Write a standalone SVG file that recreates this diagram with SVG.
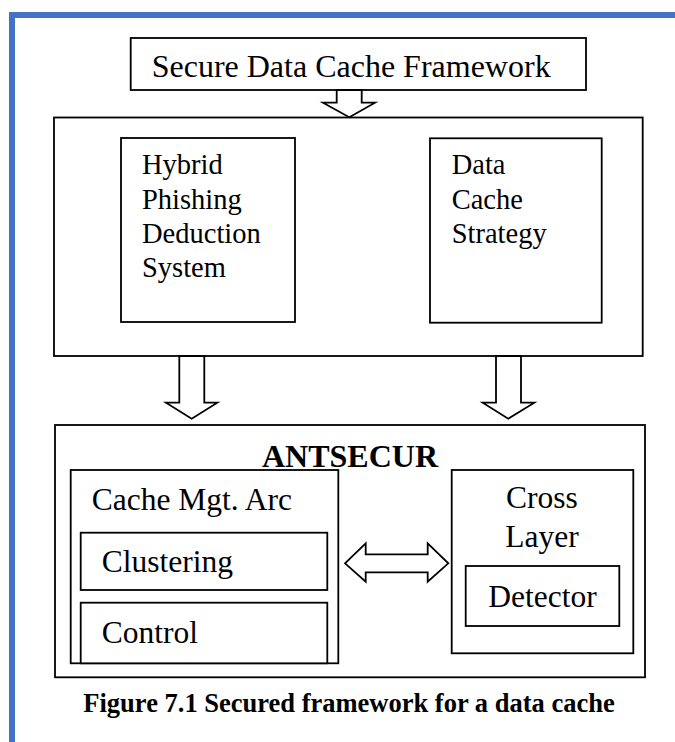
<svg xmlns="http://www.w3.org/2000/svg" width="675" height="742" viewBox="0 0 675 742">
<style>
.box{fill:#fff;stroke:#000;stroke-width:1.8}
.arr{fill:#fff;stroke:#000;stroke-width:1.8;stroke-linejoin:miter}
.t{font-family:"Liberation Serif","Times New Roman",serif;fill:#000}
.b{font-weight:bold}
</style>
<rect x="0" y="0" width="675" height="742" fill="#fff"/>
<path d="M12 742 V15 H680" fill="none" stroke="#4472C4" stroke-width="6"/>
<g id="framework">
<rect class="box" x="130.7" y="38" width="455.3" height="52"/>
<text class="t" x="151.7" y="77" font-size="32">Secure Data Cache Framework</text>
</g>
<g id="upper">
<rect class="box" x="54" y="117.5" width="588.7" height="238.5"/>
</g>
<g id="hybrid">
<rect class="box" x="121" y="138" width="174" height="184"/>
<text class="t" x="142" font-size="28.5"><tspan x="142" y="174">Hybrid</tspan><tspan x="142" y="208.5">Phishing</tspan><tspan x="142" y="243">Deduction</tspan><tspan x="142" y="277">System</tspan></text>
</g>
<g id="strategy">
<rect class="box" x="430" y="138.3" width="171.7" height="184.4"/>
<text class="t" font-size="28.5"><tspan x="451.7" y="174">Data</tspan><tspan x="451.7" y="208.5">Cache</tspan><tspan x="451.7" y="243">Strategy</tspan></text>
</g>
<g id="antsecur">
<rect class="box" x="55" y="425" width="590" height="252.3"/>
<text class="t b" x="350" y="466.7" font-size="32" text-anchor="middle">ANTSECUR</text>
</g>
<g id="cachemgt">
<rect class="box" x="70.7" y="470" width="267.6" height="193.3"/>
<text class="t" x="91.7" y="510" font-size="31.5">Cache Mgt. Arc</text>
</g>
<g id="clustering">
<rect class="box" x="80.7" y="532.7" width="246.6" height="57.3"/>
<text class="t" x="101.7" y="571.5" font-size="31.5">Clustering</text>
</g>
<g id="control">
<rect class="box" x="80.7" y="602.7" width="246.6" height="60.6"/>
<text class="t" x="101.7" y="642.7" font-size="31.5">Control</text>
</g>
<g id="crosslayer">
<rect class="box" x="451.7" y="470" width="181.6" height="183.3"/>
<text class="t" font-size="31.5" text-anchor="middle"><tspan x="542" y="508.3">Cross</tspan><tspan x="542" y="546.7">Layer</tspan></text>
</g>
<g id="detector">
<rect class="box" x="465.7" y="566" width="153.6" height="60"/>
<text class="t" x="542.5" y="606.7" font-size="31.5" text-anchor="middle">Detector</text>
</g>
<g id="connectors">
<polygon class="arr" points="336.7,90 361.7,90 361.7,102.7 375,102.7 349.3,117.3 323,102.7 336.7,102.7"/>
<polygon class="arr" points="179.3,356 204.3,356 204.3,402.7 217.3,402.7 191.7,418.7 166,402.7 179.3,402.7"/>
<polygon class="arr" points="496,356 521,356 521,402.7 534.3,402.7 508.3,418.7 482.7,402.7 496,402.7"/>
<polygon class="arr" points="345,563.3 365.7,543.3 365.7,554.3 427.7,554.3 427.7,543.3 448.3,563.3 427.7,581.7 427.7,572.3 365.7,572.3 365.7,581.7"/>
</g>
<text class="t b" x="349" y="712" font-size="26.5" text-anchor="middle">Figure 7.1 Secured framework for a data cache</text>
</svg>
